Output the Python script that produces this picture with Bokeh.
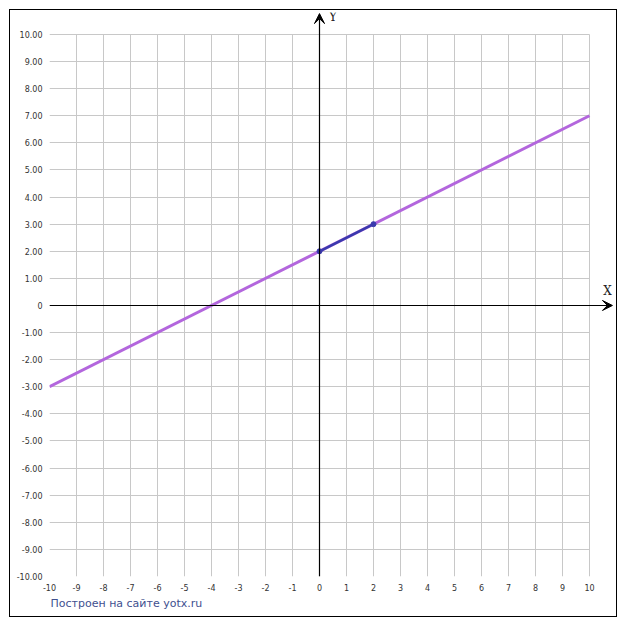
from bokeh.plotting import figure
from bokeh.models import (Range1d, FixedTicker, LinearAxis, Grid, Arrow, VeeHead,
                          Label, ColumnDataSource, Title)
from bokeh.embed import file_html
from bokeh.resources import INLINE

# ---- data ----
line_x = [-10, 10]
line_y = [-3, 7]
seg_x = [0, 2]
seg_y = [2, 3]
x_ticks = list(range(-10, 11))
x_tick_labels = [str(v) for v in x_ticks]
y_ticks = list(range(-10, 11))
y_tick_labels = ["0" if v == 0 else "%.2f" % v for v in y_ticks]
grid_min, grid_max = -10, 10
footer_text = "Построен на сайте yotx.ru"

p = figure(width=608, height=608, output_backend="svg", toolbar_location=None,
           x_range=Range1d(-10, 10.963), y_range=Range1d(-10, 10.81),
           x_axis_type=None, y_axis_type=None,
           min_border_left=39, min_border_right=3, min_border_top=2, min_border_bottom=42,
           background_fill_color="white", border_fill_color="white",
           outline_line_color=None,
           styles={"border": "1px solid #000", "margin-left": "9px", "margin-top": "9px"})

label_font = "DejaVu Sans"
common = dict(axis_line_color=None, major_tick_line_color=None, minor_tick_line_color=None,
              major_tick_in=0, major_tick_out=0, minor_tick_in=0, minor_tick_out=0,
              major_label_standoff=7, major_label_text_font=label_font,
              major_label_text_font_size="8px", major_label_text_color="#333333")
xax = LinearAxis(ticker=FixedTicker(ticks=x_ticks),
                 major_label_overrides={v: s for v, s in zip(x_ticks, x_tick_labels)}, **common)
yax = LinearAxis(ticker=FixedTicker(ticks=y_ticks),
                 major_label_overrides={v: s for v, s in zip(y_ticks, y_tick_labels)}, **common)
p.add_layout(xax, "below")
p.add_layout(yax, "left")
p.add_layout(Title(text=footer_text, align="left", offset=1, standoff=3,
                   text_font="DejaVu Sans", text_font_size="11px", text_font_style="normal",
                   text_color="#41508f"), "below")

p.add_layout(Grid(dimension=0, ticker=FixedTicker(ticks=x_ticks), bounds=(grid_min, grid_max),
                  cross_bounds=(grid_min, grid_max),
                  grid_line_color="#c8c8c8", grid_line_width=1))
p.add_layout(Grid(dimension=1, ticker=FixedTicker(ticks=y_ticks), bounds=(grid_min, grid_max),
                  cross_bounds=(grid_min, grid_max),
                  grid_line_color="#c8c8c8", grid_line_width=1))

# coordinate axes with arrows
p.add_layout(Arrow(x_start=grid_min, y_start=0, x_end=10.85, y_end=0,
                   line_color="black", line_width=1.2,
                   end=VeeHead(size=10, fill_color="black", line_color="black", line_width=1)))
p.add_layout(Arrow(x_start=0, y_start=grid_min, x_end=0, y_end=10.77,
                   line_color="black", line_width=1.2,
                   end=VeeHead(size=10, fill_color="black", line_color="black", line_width=1)))

p.add_layout(Label(x=10.67, y=0.55, text="X", text_font="DejaVu Serif", text_font_size="12px",
                   text_color="#222222", text_align="center", text_baseline="middle"))
p.add_layout(Label(x=0.5, y=10.63, text="Y", text_font="DejaVu Serif", text_font_size="12px",
                   text_color="#222222", text_align="center", text_baseline="middle"))

# function line
p.line(line_x, line_y, line_color="#b366dd", line_width=3)
# segment
src = ColumnDataSource(dict(x=seg_x, y=seg_y))
p.line("x", "y", source=src, line_color="#3a3aad", line_width=2.5)
p.scatter("x", "y", source=src, size=5, fill_color="#3a3aad", line_color="#3a3aad")

open("out.html", "w").write(file_html(p, INLINE))
